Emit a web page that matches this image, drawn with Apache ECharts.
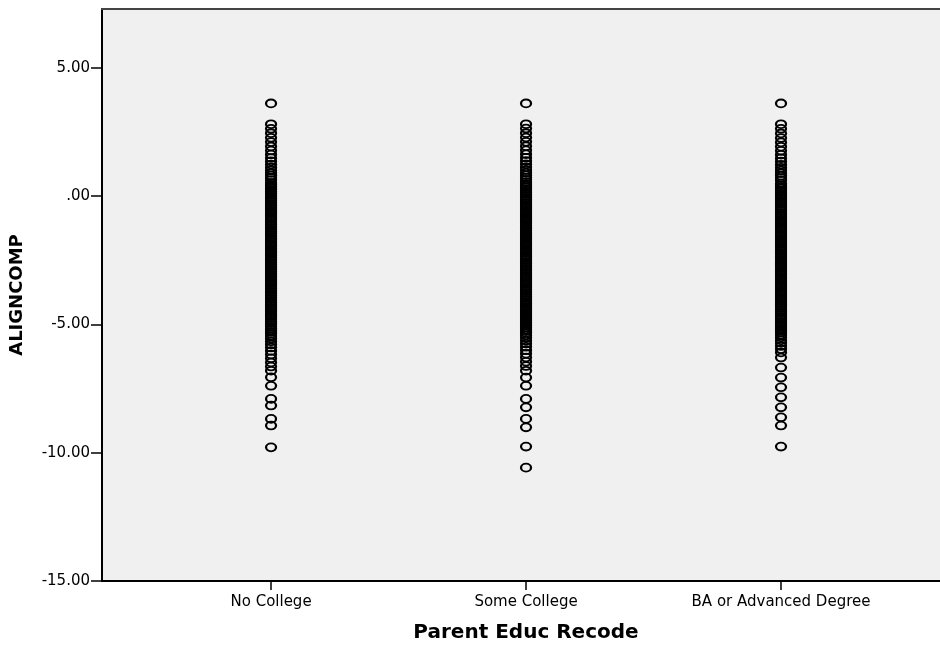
<!DOCTYPE html>
<html>
<head>
<meta charset="utf-8">
<script src="https://cdn.jsdelivr.net/npm/echarts@6/dist/echarts.min.js"></script>
<style>
  html, body { margin: 0; padding: 0; background: #ffffff; }
  #chart { width: 940px; height: 645px; }
</style>
</head>
<body>
<div id="chart"></div>
<script>
// Parent education groups and their position on the horizontal axis
const categories = ['No College', 'Some College', 'BA or Advanced Degree'];
const categoryPositions = [1, 2, 3];

// Vertical axis tick values
const yTicks = [-15, -10, -5, 0, 5];

// ALIGNCOMP values observed in each group
const noCollege = [
  3.62, 2.81, 2.63, 2.46, 2.28, 2.11, 1.94, 1.78, 1.63, 1.49, 1.36, 1.24, 1.12, 1.01, 0.91, 0.81, 0.72, 0.63,
  0.52, 0.45, 0.38, 0.31, 0.25, 0.18, 0.11, 0.04, -0.03, -0.09, -0.16, -0.23, -0.30, -0.36, -0.43, -0.50,
  -0.57, -0.63, -0.70, -0.77, -0.84, -0.90, -0.97, -1.04, -1.11, -1.17, -1.24, -1.31, -1.38, -1.44, -1.51,
  -1.58, -1.65, -1.71, -1.78, -1.85, -1.92, -1.98, -2.05, -2.12, -2.19, -2.25, -2.32, -2.39, -2.46, -2.52,
  -2.59, -2.66, -2.73, -2.79, -2.86, -2.93, -3.00, -3.06, -3.13, -3.20, -3.27, -3.33, -3.40, -3.47, -3.54,
  -3.60, -3.67, -3.74, -3.81, -3.87, -3.94, -4.01, -4.08, -4.14, -4.21, -4.28, -4.35, -4.41, -4.48, -4.55,
  -4.62, -4.68, -4.75, -4.82, -4.89, -4.95, -5.02, -5.09, -5.16, -5.22, -5.29, -5.36,
  -5.45, -5.55, -5.66, -5.78, -5.90, -6.03, -6.17, -6.32, -6.48, -6.64, -6.80,
  -7.06, -7.39, -7.90, -8.16, -8.68, -8.94, -9.79
];

const someCollege = [
  3.62, 2.81, 2.64, 2.46, 2.29, 2.12, 1.95, 1.79, 1.64, 1.50, 1.37, 1.25, 1.13, 1.02, 0.92, 0.82, 0.73, 0.64,
  0.55, 0.48, 0.41, 0.35, 0.28, 0.21, 0.14, 0.08, 0.01, -0.06, -0.13, -0.19, -0.26, -0.33, -0.40, -0.46,
  -0.53, -0.60, -0.67, -0.73, -0.80, -0.87, -0.94, -1.00, -1.07, -1.14, -1.21, -1.27, -1.34, -1.41, -1.48,
  -1.54, -1.61, -1.68, -1.75, -1.81, -1.88, -1.95, -2.02, -2.08, -2.15, -2.22, -2.29, -2.35, -2.42, -2.49,
  -2.56, -2.62, -2.69, -2.76, -2.83, -2.89, -2.96, -3.03, -3.10, -3.16, -3.23, -3.30, -3.37, -3.43, -3.50,
  -3.57, -3.64, -3.70, -3.77, -3.84, -3.91, -3.97, -4.04, -4.11, -4.18, -4.24, -4.31, -4.38, -4.45, -4.51,
  -4.58, -4.65, -4.72, -4.78, -4.85, -4.92, -4.99, -5.05, -5.12, -5.19, -5.26, -5.33,
  -5.42, -5.52, -5.63, -5.75, -5.87, -6.00, -6.14, -6.29, -6.45, -6.62, -6.80,
  -7.07, -7.39, -7.90, -8.23, -8.68, -9.01, -9.76, -10.58
];

const baOrAdvanced = [
  3.62, 2.81, 2.63, 2.45, 2.27, 2.10, 1.93, 1.77, 1.62, 1.48, 1.35, 1.23, 1.11, 1.00, 0.90, 0.80, 0.71, 0.62,
  0.50, 0.43, 0.36, 0.30, 0.23, 0.16, 0.09, 0.03, -0.04, -0.11, -0.18, -0.24, -0.31, -0.38, -0.45, -0.51,
  -0.58, -0.65, -0.72, -0.78, -0.85, -0.92, -0.99, -1.05, -1.12, -1.19, -1.26, -1.32, -1.39, -1.46, -1.53,
  -1.59, -1.66, -1.73, -1.80, -1.86, -1.93, -2.00, -2.07, -2.13, -2.20, -2.27, -2.34, -2.40, -2.47, -2.54,
  -2.61, -2.67, -2.74, -2.81, -2.88, -2.94, -3.01, -3.08, -3.15, -3.21, -3.28, -3.35, -3.42, -3.48, -3.55,
  -3.62, -3.69, -3.75, -3.82, -3.89, -3.96, -4.02, -4.09, -4.16, -4.23, -4.29, -4.36, -4.43, -4.50, -4.56,
  -4.63, -4.70, -4.77, -4.83, -4.90, -4.97, -5.04, -5.10, -5.17, -5.24, -5.31,
  -5.40, -5.50, -5.61, -5.72, -5.84, -5.96, -6.09, -6.29, -6.68, -7.07, -7.45, -7.84, -8.23, -8.62, -8.94,
  -9.76
];

const groups = [noCollege, someCollege, baOrAdvanced];
const points = [];
groups.forEach(function (values, i) {
  values.forEach(function (v) { points.push([categoryPositions[i], v]); });
});

// SPSS-style number format: 5.00, .00, -10.00
function formatValue(v) {
  const s = Math.abs(v).toFixed(2).replace(/^0\./, '.');
  return (v < 0 ? '-' : '') + s;
}

const chart = echarts.init(document.getElementById('chart'), null, { renderer: 'canvas' });

const axisFont = 'DejaVu Sans';

chart.setOption({
  animation: false,
  backgroundColor: '#ffffff',
  grid: {
    left: 102,
    right: 0,
    top: 9,
    bottom: 64,
    containLabel: false,
    outerBoundsMode: 'none',
    show: true,
    backgroundColor: '#f0f0f0',
    borderWidth: 0
  },
  xAxis: [{
    type: 'value',
    min: 0.337,
    max: 3.6235,
    name: 'Parent Educ Recode',
    nameLocation: 'middle',
    nameGap: 42,
    nameTextStyle: {
      fontFamily: axisFont,
      fontWeight: 'bold',
      fontSize: 20,
      color: '#000000',
      padding: [0, 0, 0, 10]
    },
    axisLine: { show: true, onZero: false, lineStyle: { color: '#000000', width: 2 } },
    axisTick: {
      show: true,
      length: 9,
      customValues: categoryPositions,
      lineStyle: { color: '#000000', width: 1.5 }
    },
    axisLabel: {
      customValues: categoryPositions,
      margin: 14,
      fontFamily: axisFont,
      fontSize: 15,
      color: '#000000',
      formatter: function (v) {
        const idx = categoryPositions.indexOf(Math.round(v));
        return idx >= 0 ? categories[idx] : '';
      }
    },
    splitLine: { show: false }
  }, {
    // top frame line of the plot area
    type: 'value',
    position: 'top',
    min: 0.337,
    max: 3.6235,
    axisLine: { show: true, onZero: false, lineStyle: { color: '#444444', width: 2 } },
    axisTick: { show: false },
    axisLabel: { show: false },
    splitLine: { show: false }
  }],
  yAxis: {
    type: 'value',
    min: -15,
    max: 7.3,
    name: 'ALIGNCOMP',
    nameLocation: 'middle',
    nameRotate: 90,
    nameGap: 76,
    nameTextStyle: {
      fontFamily: axisFont,
      fontWeight: 'bold',
      fontSize: 18,
      color: '#000000'
    },
    axisLine: { show: true, onZero: false, lineStyle: { color: '#000000', width: 2 } },
    axisTick: {
      show: true,
      length: 11,
      customValues: yTicks,
      lineStyle: { color: '#000000', width: 1.5 }
    },
    axisLabel: {
      customValues: yTicks,
      margin: 12,
      fontFamily: axisFont,
      fontSize: 15,
      color: '#000000',
      formatter: formatValue
    },
    splitLine: { show: false }
  },
  series: [{
    type: 'scatter',
    xAxisIndex: 0,
    data: points,
    symbol: 'circle',
    symbolSize: [10, 7.8],
    silent: true,
    itemStyle: {
      color: 'rgba(0,0,0,0)',
      borderColor: '#000000',
      borderWidth: 2,
      opacity: 1
    }
  }]
});
</script>
</body>
</html>
